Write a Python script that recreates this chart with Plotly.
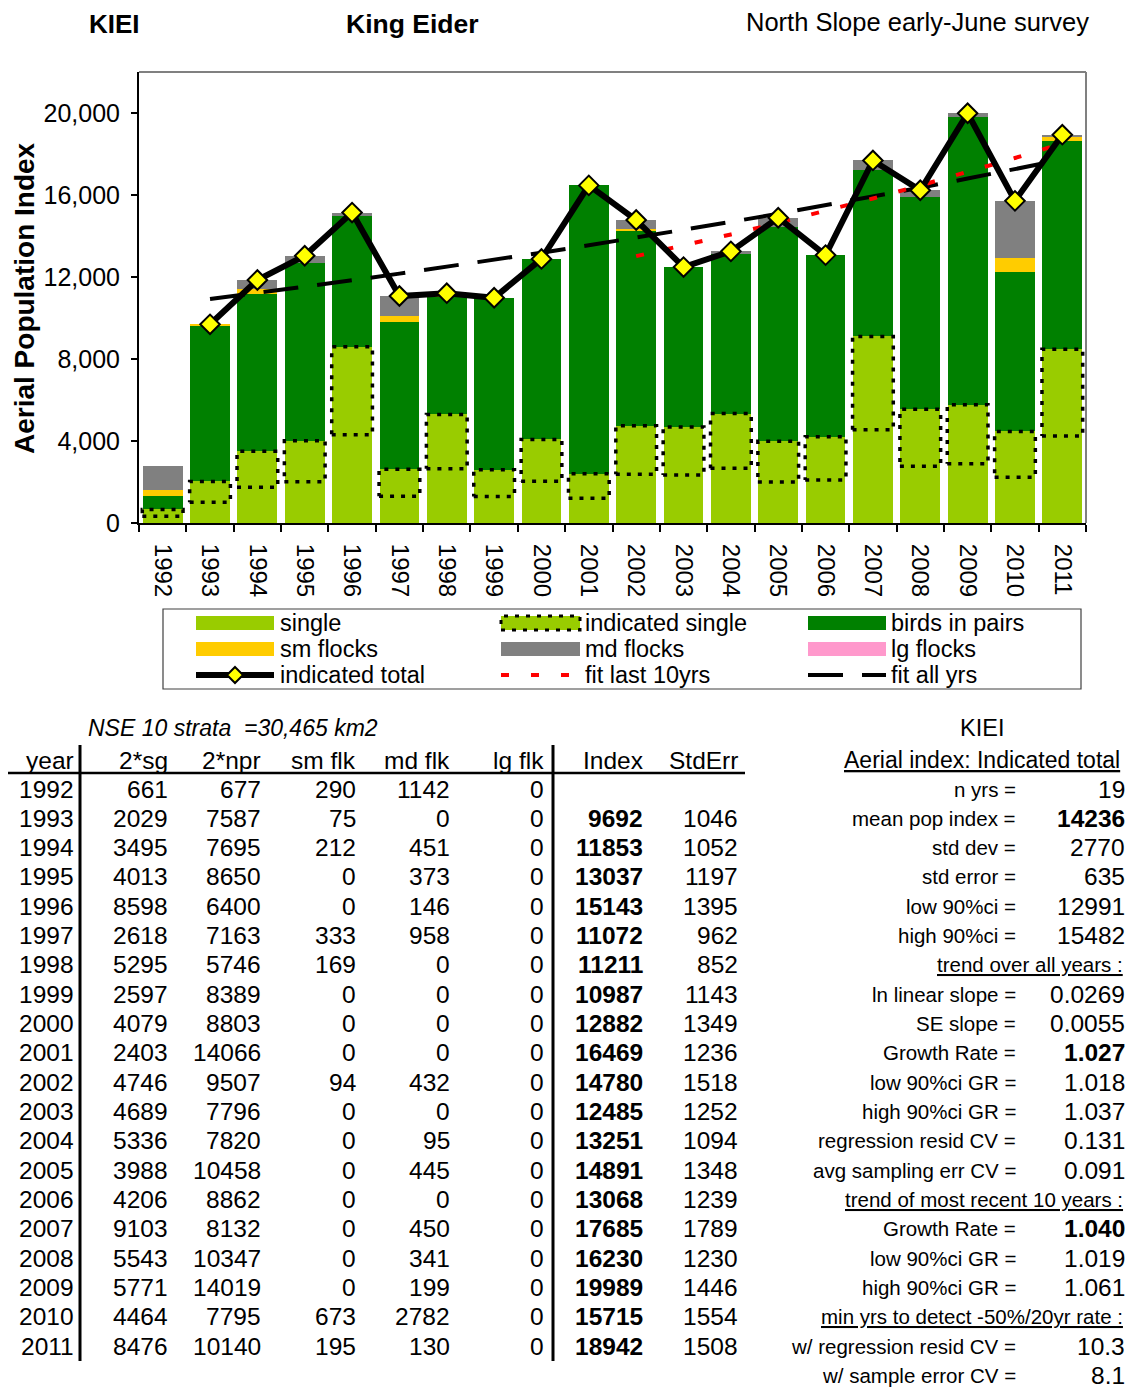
import numpy as np
import plotly.graph_objects as go

# ---------------- data ----------------
years = list(range(1992, 2012))
sg2 = [661, 2029, 3495, 4013, 8598, 2618, 5295, 2597, 4079, 2403, 4746, 4689, 5336, 3988, 4206, 9103, 5543, 5771, 4464, 8476]
npr2 = [677, 7587, 7695, 8650, 6400, 7163, 5746, 8389, 8803, 14066, 9507, 7796, 7820, 10458, 8862, 8132, 10347, 14019, 7795, 10140]
sm_flk = [290, 75, 212, 0, 0, 333, 169, 0, 0, 0, 94, 0, 0, 0, 0, 0, 0, 0, 673, 195]
md_flk = [1142, 0, 451, 373, 146, 958, 0, 0, 0, 0, 432, 0, 95, 445, 0, 450, 341, 199, 2782, 130]
lg_flk = [0, 0, 0, 0, 0, 0, 0, 0, 0, 0, 0, 0, 0, 0, 0, 0, 0, 0, 0, 0]
index_vals = [None, 9692, 11853, 13037, 15143, 11072, 11211, 10987, 12882, 16469, 14780, 12485, 13251, 14891, 13068, 17685, 16230, 19989, 15715, 18942]
stderr_vals = [None, 1046, 1052, 1197, 1395, 962, 852, 1143, 1349, 1236, 1518, 1252, 1094, 1348, 1239, 1789, 1230, 1446, 1554, 1508]

y_ticks = [0, 4000, 8000, 12000, 16000, 20000]

table_headers = ["year", "2*sg", "2*npr", "sm flk", "md flk", "lg flk", "Index", "StdErr"]

stat_labels = ["n yrs =", "mean pop index =", "std dev =", "std error =", "low 90%ci =", "high 90%ci =",
               "trend over all years :", "ln linear slope =", "SE slope =", "Growth Rate =",
               "low 90%ci GR =", "high 90%ci GR =", "regression resid CV =", "avg sampling err CV =",
               "trend of most recent 10 years :", "Growth Rate =", "low 90%ci GR =", "high 90%ci GR =",
               "min yrs to detect -50%/20yr rate :", "w/ regression resid CV =", "w/ sample error CV ="]
stat_values = ["19", "14236", "2770", "635", "12991", "15482", None, "0.0269", "0.0055", "1.027",
               "1.018", "1.037", "0.131", "0.091", None, "1.040", "1.019", "1.061", None, "10.3", "8.1"]
stat_bold = ["14236", "1.027", "1.040"]

# ---------------- geometry helpers (reference pixels -> paper) ----------------
OFF = 8  # page body margin
W, H = 1133 - OFF, 1389 - OFF
PL, PR, PT, PB = 139, 1086, 72, 523   # plot area in reference pixels
def fx(px):
    return (px - PL) / (PR - PL)
def fy(py):
    return (PB - py) / (PB - PT)

FONT = "Liberation Sans, Arial, sans-serif"
C_SINGLE = "#99CC00"
C_PAIRS = "#008000"
C_SM = "#FFCC00"
C_MD = "#808080"
C_LG = "#FF99CC"

fig = go.Figure()
bw = 0.84
single = [v / 2 for v in sg2]
fig.add_trace(go.Bar(x=years, y=single, marker=dict(color=C_SINGLE, line=dict(width=0)), width=bw, name="single"))
fig.add_trace(go.Bar(x=years, y=single, marker=dict(color=C_SINGLE, line=dict(width=0)), width=bw, name="indicated single"))
fig.add_trace(go.Bar(x=years, y=npr2, marker=dict(color=C_PAIRS, line=dict(width=0)), width=bw, name="birds in pairs"))
fig.add_trace(go.Bar(x=years, y=sm_flk, marker=dict(color=C_SM, line=dict(width=0)), width=bw, name="sm flocks"))
fig.add_trace(go.Bar(x=years, y=md_flk, marker=dict(color=C_MD, line=dict(width=0)), width=bw, name="md flocks"))
fig.add_trace(go.Bar(x=years, y=lg_flk, marker=dict(color=C_LG, line=dict(width=0)), width=bw, name="lg flocks"))

# dotted outline of the "indicated single" segment
ox, oy = [], []
hw = bw / 2 + 0.01
for yr, s in zip(years, sg2):
    lo, hi = s / 2, s
    ox += [yr - hw, yr + hw, yr + hw, yr - hw, yr - hw, None]
    oy += [lo, lo, hi, hi, lo, None]
fig.add_trace(go.Scatter(x=ox, y=oy, mode="lines", line=dict(color="black", width=3.5, dash="4px,7px"),
                         hoverinfo="skip", showlegend=False))

# exponential fits (log-linear regression)
fit_years = np.array(years[1:], dtype=float)
fit_idx = np.log(np.array(index_vals[1:], dtype=float))
b_all, a_all = np.polyfit(fit_years, fit_idx, 1)
fig.add_trace(go.Scatter(x=fit_years, y=np.exp(a_all + b_all * fit_years), mode="lines",
                         line=dict(color="black", width=4, dash="35px,19px"), name="fit all yrs"))
ten_years = np.array(years[-10:], dtype=float)
ten_idx = np.log(np.array(index_vals[-10:], dtype=float))
b10, a10 = np.polyfit(ten_years, ten_idx, 1)
fig.add_trace(go.Scatter(x=ten_years, y=np.exp(a10 + b10 * ten_years), mode="lines",
                         line=dict(color="#FF0000", width=4, dash="8px,22px"), name="fit last 10yrs"))

fig.add_trace(go.Scatter(x=years[1:], y=index_vals[1:], mode="lines+markers",
                         line=dict(color="black", width=6),
                         marker=dict(symbol="diamond", size=15, color="#FFFF00", line=dict(color="black", width=2)),
                         name="indicated total"))

shapes = []
annotations = []

# plot border (top & right in gray)
shapes.append(dict(type="line", xref="paper", yref="paper", x0=0, x1=1, y0=1, y1=1, line=dict(color="#808080", width=2)))
shapes.append(dict(type="line", xref="paper", yref="paper", x0=1, x1=1, y0=0, y1=1, line=dict(color="#808080", width=2)))

def ann(text, x, y, anchor="right", size=24.5, bold=False, italic=False, color="black"):
    t = text
    if bold:
        t = "<b>" + t + "</b>"
    if italic:
        t = "<i>" + t + "</i>"
    annotations.append(dict(text=t, x=fx(x), y=fy(y), xref="paper", yref="paper", showarrow=False,
                            xanchor=anchor, yanchor="middle", font=dict(family=FONT, size=size, color=color)))

# titles
ann("KIEI", 114, 23.5, anchor="center", size=26, bold=True)
ann("King Eider", 412, 23.5, anchor="center", size=26.5, bold=True)
ann("North Slope early-June survey", 1091, 22, anchor="right", size=25.5)
annotations.append(dict(text="<b>Aerial Population Index</b>", x=fx(24), y=fy(298), xref="paper", yref="paper",
                        showarrow=False, textangle=-90, xanchor="center", yanchor="middle",
                        font=dict(family=FONT, size=28, color="black")))

# ---------------- legend (manual) ----------------
lx0, lx1, ly0, ly1 = 163, 1081, 609, 689
shapes.append(dict(type="rect", xref="paper", yref="paper", x0=fx(lx0), x1=fx(lx1), y0=fy(ly1), y1=fy(ly0),
                   line=dict(color="#404040", width=1.2), fillcolor="white"))
cols = [(196, 274, 280), (501, 580, 585), (808, 886, 891)]
rows = [623, 649, 675]
def swatch(ci, ri, color, dotted=False):
    sx0, sx1, _ = cols[ci]
    yc = rows[ri]
    shapes.append(dict(type="rect", xref="paper", yref="paper", x0=fx(sx0), x1=fx(sx1), y0=fy(yc + 7), y1=fy(yc - 7),
                       fillcolor=color, line=dict(width=0)))
    if dotted:
        shapes.append(dict(type="rect", xref="paper", yref="paper", x0=fx(sx0), x1=fx(sx1), y0=fy(yc + 7), y1=fy(yc - 7),
                           fillcolor="rgba(0,0,0,0)", line=dict(color="black", width=3, dash="4px,7px")))
def lline(ci, ri, color, width, dash="solid"):
    sx0, sx1, _ = cols[ci]
    yc = rows[ri]
    shapes.append(dict(type="line", xref="paper", yref="paper", x0=fx(sx0), x1=fx(sx1), y0=fy(yc), y1=fy(yc),
                       line=dict(color=color, width=width, dash=dash)))

swatch(0, 0, C_SINGLE)
swatch(1, 0, C_SINGLE, dotted=True)
swatch(2, 0, C_PAIRS)
swatch(0, 1, C_SM)
swatch(1, 1, C_MD)
swatch(2, 1, C_LG)
lline(0, 2, "black", 6)
# diamond marker in legend
dcx, dcy, dr = 235, rows[2], 8
shapes.append(dict(type="path", xref="paper", yref="paper",
                   path="M {a},{b} L {c},{d} L {a},{e} L {f},{d} Z".format(
                       a=fx(dcx), b=fy(dcy - dr), c=fx(dcx + dr), d=fy(dcy), e=fy(dcy + dr), f=fx(dcx - dr)),
                   fillcolor="#FFFF00", line=dict(color="black", width=2)))
lline(1, 2, "#FF0000", 4, "8px,22px")
lline(2, 2, "black", 4, "35px,19px")

legend_texts = [["single", "indicated single", "birds in pairs"],
                ["sm flocks", "md flocks", "lg flocks"],
                ["indicated total", "fit last 10yrs", "fit all yrs"]]
for ri, row in enumerate(legend_texts):
    for ci, txt in enumerate(row):
        ann(txt, cols[ci][2] - 2, rows[ri], anchor="left", size=23.5)

# ---------------- data table ----------------
ann("NSE 10 strata  =30,465 km2", 86, 728, anchor="left", size=23, italic=True)
col_right = [76, 170, 263, 358, 452, 546, 645, 740]
hdr_y = 760
row_y0, row_dy = 789, 29.33
for h, xr in zip(table_headers, col_right):
    ann(h, xr, hdr_y)
for i, yr in enumerate(years):
    yy = row_y0 + i * row_dy
    vals = [str(yr), str(sg2[i]), str(npr2[i]), str(sm_flk[i]), str(md_flk[i]), str(lg_flk[i])]
    for v, xr in zip(vals, col_right[:6]):
        ann(v, xr, yy)
    if index_vals[i] is not None:
        ann(str(index_vals[i]), col_right[6], yy, bold=True)
        ann(str(stderr_vals[i]), col_right[7], yy)

# table lines
shapes.append(dict(type="line", xref="paper", yref="paper", x0=fx(0), x1=fx(745), y0=fy(773), y1=fy(773),
                   line=dict(color="black", width=2.5)))
for xv in (80, 553):
    shapes.append(dict(type="line", xref="paper", yref="paper", x0=fx(xv), x1=fx(xv), y0=fy(745), y1=fy(1361),
                       line=dict(color="black", width=3)))

# ---------------- summary panel ----------------
ann("KIEI", 982, 728, anchor="center", size=23.5)
ann("<u>Aerial index: Indicated total</u>", 1122, hdr_y, size=23)
for i, (lab, val) in enumerate(zip(stat_labels, stat_values)):
    yy = row_y0 + i * row_dy
    if val is None:
        ann("<u>" + lab + "</u>", 1125, yy, size=20.5)
    else:
        ann(lab, 1018, yy, size=20.5)
        ann(val, 1127, yy, size=24.5, bold=(val in stat_bold and lab in ("mean pop index =", "Growth Rate =")))

fig.update_layout(
    width=W, height=H,
    margin=dict(l=PL - OFF, r=W - (PR - OFF), t=PT - OFF, b=H - (PB - OFF), pad=0),
    paper_bgcolor="white", plot_bgcolor="white",
    barmode="stack", bargap=0.16, showlegend=False,
    font=dict(family=FONT, size=24, color="black"),
    shapes=shapes, annotations=annotations,
    xaxis=dict(range=[1991.5, 2011.5], tickmode="array", tickvals=years, ticktext=[str(y) for y in years],
               tickangle=90, ticks="", showgrid=False, zeroline=False, showline=True, linecolor="black", linewidth=2,
               tickfont=dict(family=FONT, size=24, color="black"), ticklabelstandoff=14,
               minor=dict(tickmode="array", tickvals=[y - 0.5 for y in years] + [years[-1] + 0.5],
                          ticks="outside", ticklen=7, tickcolor="black", tickwidth=1.5, showgrid=False)),
    yaxis=dict(range=[0, 22000], tickmode="array", tickvals=y_ticks, tickformat=",", ticks="outside", ticklen=6,
               tickcolor="black", tickwidth=1.5, showgrid=False, zeroline=False, showline=True, linecolor="black",
               linewidth=2, tickfont=dict(family=FONT, size=25, color="black"), ticklabelstandoff=6),
)

fig.write_html("out.html")
